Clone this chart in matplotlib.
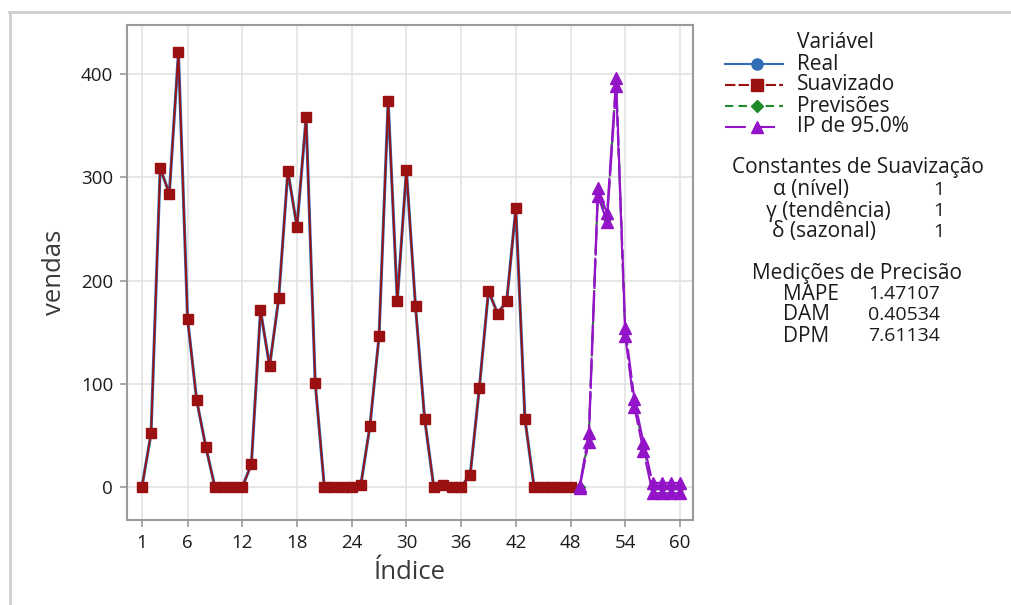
import matplotlib
matplotlib.use("Agg")
import matplotlib.pyplot as plt
from matplotlib.lines import Line2D

plt.rcParams["font.family"] = ["Open Sans", "DejaVu Sans"]

# dados
indice_real = list(range(1, 49))
vendas = [
    0, 52, 309, 284, 421, 163, 84, 39, 0, 0, 0, 0,
    22, 171, 117, 183, 306, 252, 358, 101, 0, 0, 0, 0,
    2, 59, 146, 374, 180, 307, 175, 66, 0, 2, 0, 0,
    12, 96, 190, 168, 180, 270, 66, 0, 0, 0, 0, 0,
]
suavizado = list(vendas)

indice_prev = list(range(49, 61))
previsoes = [0, 48, 286, 261, 392, 150, 81, 39, 0, 0, 0, 0]
ip_superior = [1, 52, 290, 265, 396, 154, 85, 43, 4, 4, 4, 4]
ip_inferior = [-1, 44, 282, 257, 388, 146, 77, 35, -6, -6, -6, -6]

xticks = [1, 6, 12, 18, 24, 30, 36, 42, 48, 54, 60]
yticks = [0, 100, 200, 300, 400]

constantes = [("α (nível)", "1", 773), ("γ (tendência)", "1", 766), ("δ (sazonal)", "1", 772)]
precisao = [("MAPE", "1.47107"), ("DAM", "0.40534"), ("DPM", "7.61134")]

AZUL = "#2f6db5"
VERMELHO = "#9b1111"
VERDE = "#1f8a2a"
ROXO = "#9314c8"
CINZA = "#9a9a9a"
TEXTO = "#1c1c1c"

W, H = 1011, 605
fig = plt.figure(figsize=(W / 100, H / 100), dpi=100)

ax = fig.add_axes([127 / W, 1 - 520 / H, (693 - 127) / W, (520 - 25) / H])

# Real / Suavizado
ax.plot(indice_real, vendas, color=AZUL, lw=2.2, marker="o", ms=5, zorder=3)
ax.plot(indice_real, suavizado, color=VERMELHO, lw=1.3, marker="s", ms=7,
        mfc=VERMELHO, mec=VERMELHO, zorder=4)

# previsões e intervalo
ax.plot(indice_prev, previsoes, color=VERDE, lw=1.5, dashes=(4, 3),
        marker="D", ms=5, zorder=3)
ax.plot(indice_prev, ip_superior, color=ROXO, lw=1.5, dashes=(14, 2),
        marker="^", ms=8, zorder=4)
ax.plot(indice_prev, ip_inferior, color=ROXO, lw=1.5, dashes=(14, 2),
        marker="^", ms=8, zorder=4)

ax.set_xlim(-0.64, 61.43)
ax.set_ylim(-32, 447.5)
ax.set_xticks(xticks)
ax.set_yticks(yticks)
ax.grid(True, color="#e3e3e3", lw=1.2)
ax.set_axisbelow(True)
for s in ax.spines.values():
    s.set_color(CINZA)
    s.set_linewidth(1.5)
ax.tick_params(colors=CINZA, labelcolor=TEXTO, labelsize=13.5, length=5, width=1.2, pad=5)
ax.set_xlabel("Índice", fontsize=18.5, color="#3a3a3a", labelpad=6)
ax.set_ylabel("vendas", fontsize=18.5, color="#3a3a3a", labelpad=10)

# camada em pixels para a legenda e textos
ov = fig.add_axes([0, 0, 1, 1])
ov.set_xlim(0, W)
ov.set_ylim(H, 0)
ov.axis("off")
ov.patch.set_alpha(0)

ov.add_line(Line2D([9, W], [12, 12], color="#cfcfcf", lw=2))
ov.add_line(Line2D([10, 10], [12, H], color="#cfcfcf", lw=2))

fs = 15
ov.text(797, 43, "Variável", fontsize=fs, color=TEXTO, va="center")
itens = [
    ("Real", AZUL, "-", "o", 64),
    ("Suavizado", VERMELHO, (0, (5, 1.5)), "s", 85),
    ("Previsões", VERDE, (0, (4, 2.5)), "D", 106),
    ("IP de 95.0%", ROXO, (0, (10, 4)), "^", 127),
]
for nome, cor, estilo, mk, y in itens:
    ov.add_line(Line2D([725, 783], [y, y], color=cor, lw=1.5, ls=estilo))
    ov.add_line(Line2D([757], [y], color=cor, marker=mk, ms=8 if mk != "D" else 6.5,
                       mfc=cor, mec=cor))
    ov.text(797, y, nome, fontsize=fs, color=TEXTO, va="center")

ov.text(858, 168, "Constantes de Suavização", fontsize=fs, color=TEXTO,
        va="center", ha="center")
for i, (nome, valor, x) in enumerate(constantes):
    y = 190 + i * 21
    ov.text(x, y, nome, fontsize=fs, color=TEXTO, va="center")
    ov.text(939, y, valor, fontsize=14, color=TEXTO, va="center", ha="center")

ov.text(857, 273, "Medições de Precisão", fontsize=fs, color=TEXTO,
        va="center", ha="center")
for i, (nome, valor) in enumerate(precisao):
    y = 294 + i * 21
    ov.text(783, y, nome, fontsize=fs, color=TEXTO, va="center")
    ov.text(868, y, valor, fontsize=14, color=TEXTO, va="center")

fig.savefig("out.png", dpi=100)
